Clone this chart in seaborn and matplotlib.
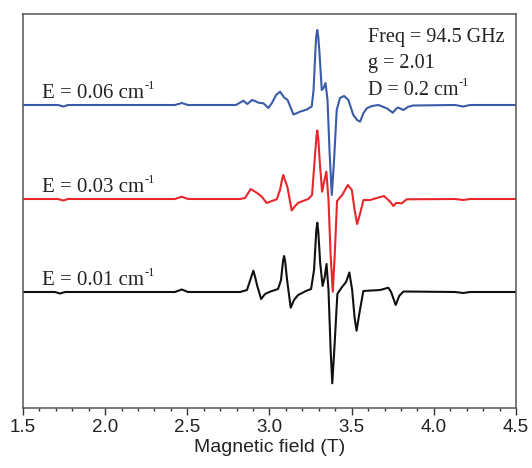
import numpy as np
import pandas as pd
import matplotlib
matplotlib.use("Agg")
import matplotlib.pyplot as plt
from matplotlib.ticker import MultipleLocator
import seaborn as sns

# Campo magnetico (T) e intensidade relativa (u.a.)
field_e001 = [1.50, 1.695, 1.725, 1.756, 2.425, 2.466, 2.504, 2.821, 2.863, 2.893, 2.902, 2.911, 2.924, 2.949,
              2.973, 3.003, 3.052, 3.070, 3.083, 3.089, 3.095, 3.107, 3.129, 3.149, 3.174, 3.222, 3.253, 3.271,
              3.285, 3.291, 3.297, 3.308, 3.323, 3.335, 3.347, 3.359, 3.372, 3.382, 3.396, 3.413, 3.440, 3.466,
              3.486, 3.503, 3.518, 3.530, 3.545, 3.571, 3.673, 3.723, 3.740, 3.768, 3.789, 3.815,
              4.129, 4.178, 4.221, 4.50]
int_e001 = [0, 0, -1.5, 0, 0, 2.5, 0, 0, 2, 17, 21.3, 16, 7, -7,
            -2, 0.3, 3, 12, 32, 36, 31, 12, -15.7, -8, -3, 1, 3, 22,
            62, 69.3, 60, 30, 6, 14, 28, 2, -58, -91.3, -53, -2, 4.7, 10,
            19.5, 2, -26, -38.7, -23, 1, 2, 4.3, 0, -13, -4, 0.5,
            0, -1, 0, 0]

field_e003 = [1.50, 1.713, 1.745, 1.774, 2.425, 2.466, 2.504, 2.821, 2.851, 2.886, 2.922, 2.953,
              2.983, 3.014, 3.044, 3.064, 3.078, 3.084, 3.092, 3.109, 3.135, 3.156, 3.176, 3.236, 3.259, 3.277,
              3.286, 3.291, 3.297, 3.305, 3.320, 3.332, 3.346, 3.359, 3.372, 3.385, 3.397, 3.411, 3.442, 3.477,
              3.501, 3.518, 3.533, 3.549, 3.572, 3.612, 3.697, 3.734, 3.754, 3.770, 3.784, 3.805,
              3.835, 4.129, 4.178, 4.221, 4.50]
int_e003 = [0, 0, -1.5, 0, 0, 2.3, 0, 0, 1, 10, 6.3, 2.3,
            -4, -2, -0.3, 9, 21, 24, 20, 12, -11.5, -7, -3.7, 0, 4, 44,
            63, 68.5, 60, 39, 7.3, 17, 27.3, -1, -56, -92.7, -56, -2, 4, 14,
            9, -11, -25, -16, -1, -1, 3, -2.7, -7, -4, -4, -4.3,
            -0.3, 0, -1, 0, 0]

field_e006 = [1.50, 1.713, 1.745, 1.774, 2.425, 2.466, 2.504, 2.796, 2.841, 2.865, 2.894, 2.912,
              2.932, 2.963, 2.993, 3.015, 3.040, 3.064, 3.089, 3.110, 3.125, 3.146, 3.168, 3.186,
              3.227, 3.257, 3.268, 3.281, 3.286, 3.291, 3.297, 3.305, 3.318, 3.329, 3.341, 3.353, 3.365, 3.379,
              3.393, 3.409, 3.429, 3.454, 3.480, 3.510, 3.533, 3.551, 3.572, 3.592, 3.624, 3.663,
              3.714, 3.750, 3.770, 3.782, 3.815, 3.845, 3.874, 4.129, 4.178, 4.221, 4.50]
int_e006 = [0, 0, -1.5, 0, 0, 2, 0, 0, 4.3, 1, 5, 4,
            2.3, 1.7, -3, 2, 10, 13.3, 7.5, 5, -1, -9.5, -8, -6.7,
            -4.5, -1.5, 15, 60, 71, 75, 68, 50, 15, 17, 22, 5, -45, -90,
            -55, -5, 7, 9, 5, -10, -15, -16.7, -8, -3.3, -1, 0,
            -3.3, -7.7, -4, -2.5, -5, -1.7, -0.5, 0, -1.5, 0, 0]

labels = ["E = 0.01 cm", "E = 0.03 cm", "E = 0.06 cm"]
colors = ["#111111", "#e8262b", "#3a5ba8"]
offsets = [176, 269, 363]
params_text = ["Freq = 94.5 GHz", "g = 2.01", "D = 0.2 cm"]

sns.set_theme(style="ticks")
plt.rcParams["font.family"] = ["Liberation Sans", "DejaVu Sans"]

fig = plt.figure(figsize=(5.32, 4.68), dpi=100)
ax = fig.add_axes([23 / 532, 1 - 408 / 468, 493 / 532, 394 / 468])

serif = "Liberation Serif"


def add_sup(t, size):
    # expoente "-1" pequeno, acima da linha do texto
    ax.annotate("-1", xy=(1.0, 0.88), xycoords=t, xytext=(0.5, 0), textcoords="offset points",
                fontsize=size, family=serif, va="center", ha="left", color="#222222")


spectra = [(field_e001, int_e001), (field_e003, int_e003), (field_e006, int_e006)]
for (f, i), lab, c, off in zip(spectra, labels, colors, offsets):
    df = pd.DataFrame({"field": f, "signal": np.array(i) + off})
    sns.lineplot(data=df, x="field", y="signal", color=c, lw=1.5, estimator=None, sort=False, ax=ax,
                 solid_joinstyle="round")
    t = ax.text(1.614, off + 7, lab, fontsize=15, family=serif, va="baseline", ha="left", color="#222222")
    add_sup(t, 9)

for k, txt in enumerate(params_text):
    t = ax.text(3.598, 426.3 - 26.7 * k, txt, fontsize=14.5, family=serif, va="baseline", ha="left",
                color="#222222")
    if txt.endswith("cm"):
        add_sup(t, 9)

ax.set_xlim(1.5, 4.5)
ax.set_ylim(60, 454)
ax.xaxis.set_minor_locator(MultipleLocator(0.1))
ax.set_xticks(np.arange(1.5, 4.51, 0.5))
ax.set_xticklabels([f"{v:.1f}" for v in np.arange(1.5, 4.51, 0.5)])
ax.set_yticks([])
ax.tick_params(axis="x", which="major", direction="out", length=5, width=1, colors="#333333",
               labelsize=13.5, pad=3, labelcolor="#222222")
ax.tick_params(axis="x", which="minor", direction="out", length=2.5, width=1, colors="#333333")
for s in ax.spines.values():
    s.set_visible(True)
    s.set_color("#555555")
    s.set_linewidth(1.1)
ax.set_xlabel("Magnetic field (T)", fontsize=14, labelpad=2, color="#222222")
ax.set_ylabel("")

fig.savefig("out.png", dpi=100)
